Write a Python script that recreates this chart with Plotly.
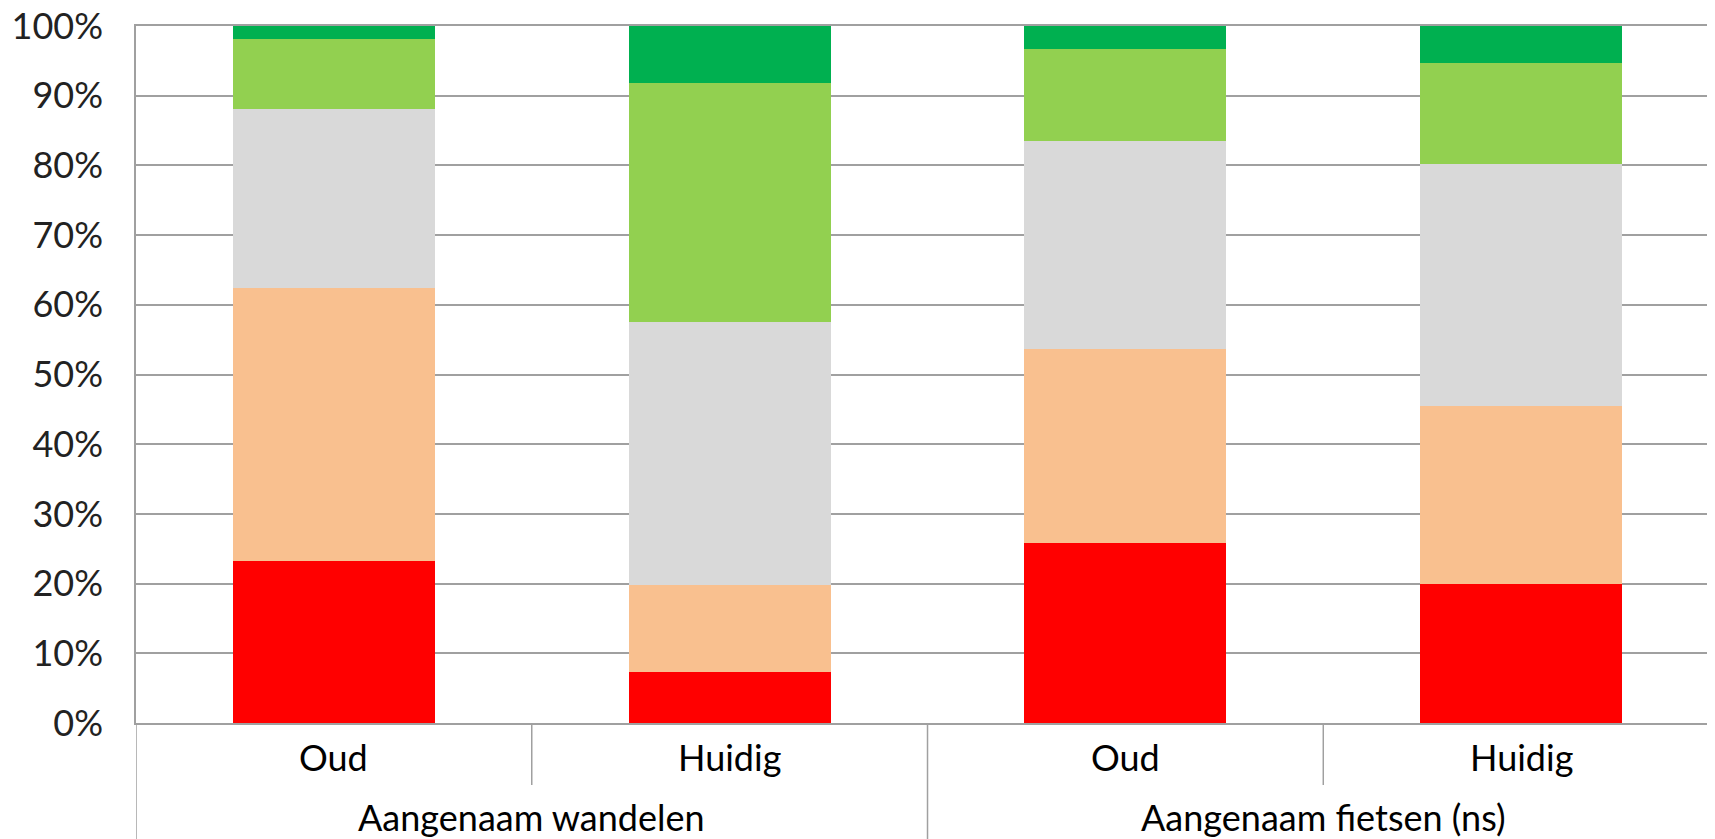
import plotly.graph_objects as go

# categorieen (twee niveaus)
groepen = ["Aangenaam wandelen", "Aangenaam wandelen",
           "Aangenaam fietsen (ns)", "Aangenaam fietsen (ns)"]
perioden = ["Oud", "Huidig", "Oud", "Huidig"]

# aandelen in procenten, van onder naar boven
zeer_onaangenaam = [23.2, 7.3, 25.8, 19.9]
onaangenaam = [39.2, 12.5, 27.9, 25.6]
neutraal = [25.7, 37.8, 29.8, 34.7]
aangenaam = [10.0, 34.2, 13.2, 14.5]
zeer_aangenaam = [1.9, 8.2, 3.3, 5.3]

series = [
    ("Zeer onaangenaam", zeer_onaangenaam, "#FF0000"),
    ("Onaangenaam", onaangenaam, "#F9C08F"),
    ("Neutraal", neutraal, "#D9D9D9"),
    ("Aangenaam", aangenaam, "#92D050"),
    ("Zeer aangenaam", zeer_aangenaam, "#00B050"),
]

y_ticks = list(range(0, 101, 10))
y_labels = [f"{v}%" for v in y_ticks]

pos = list(range(len(perioden)))
lijnkleur = "#A0A0A0"

fig = go.Figure()
for naam, waarden, kleur in series:
    fig.add_trace(go.Bar(x=pos, y=waarden, name=naam,
                         marker_color=kleur, marker_line_width=0,
                         width=0.51))

# labels onder de as: perioden en groepen
for i, p in zip(pos, perioden):
    fig.add_annotation(x=i, y=0, xref="x", yref="paper", text=p,
                       showarrow=False, yanchor="middle", yshift=-34,
                       font=dict(size=36, color="#000000"))
for g in dict.fromkeys(groepen):
    idx = [i for i in pos if groepen[i] == g]
    fig.add_annotation(x=sum(idx) / len(idx), y=0, xref="x", yref="paper",
                       text=g, showarrow=False, yanchor="middle", yshift=-94,
                       font=dict(size=36, color="#000000"))

# scheidingslijnen tussen categorieen
plot_h = 697
kort = -62 / plot_h
lang = -130 / plot_h
grenzen = [(-0.5, lang)]
for i in pos[1:]:
    grenzen.append((i - 0.5, lang if groepen[i] != groepen[i - 1] else kort))
for xg, yb in grenzen:
    fig.add_shape(type="line", xref="x", yref="paper", x0=xg, x1=xg,
                  y0=0, y1=yb, line=dict(color=lijnkleur, width=1.5))

fig.update_layout(
    barmode="stack",
    width=1715, height=839,
    margin=dict(l=128, r=0, t=18, b=839 - 18 - plot_h),
    plot_bgcolor="white", paper_bgcolor="white",
    showlegend=False,
    font=dict(family="Lato", color="#000000"),
)
fig.update_yaxes(range=[0, 100], tickvals=y_ticks, ticktext=y_labels,
                 automargin=False, ticklabeloverflow="allow",
                 showgrid=True, gridcolor=lijnkleur, gridwidth=1.5,
                 zeroline=False, showline=True, linecolor=lijnkleur, linewidth=1.5,
                 tickfont=dict(size=36, color="#222222"), ticklabelstandoff=24)
fig.update_xaxes(range=[-0.5, 3.51], showticklabels=False, ticks="",
                 showgrid=False, zeroline=False, mirror=True,
                 showline=True, linecolor=lijnkleur, linewidth=1.5)

fig.write_html("out.html")
